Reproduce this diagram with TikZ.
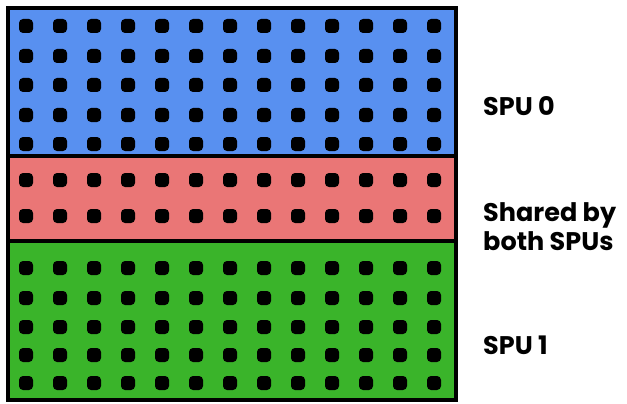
\documentclass[tikz,border=0pt]{standalone}
\usepackage{fontspec}
\setmainfont{Poppins}
\definecolor{spublue}{RGB}{88,144,240}
\definecolor{spured}{RGB}{234,118,118}
\definecolor{spugreen}{RGB}{58,180,42}
\tikzset{
  lab/.style={anchor=west, inner sep=0pt, font=\fontsize{25.5}{29}\selectfont\bfseries, align=left},
  dot/.style={fill=black, rounded corners=4pt}
}
\begin{document}
\begin{tikzpicture}[x=1pt, y=-1pt]

  \useasboundingbox (0,0) rectangle (627,404);

  % Zones
  \fill[spublue] (8,8) rectangle (456,156);
  \fill[spured] (8,156) rectangle (456,241);
  \fill[spugreen] (8,241) rectangle (456,400);

  % Points
  \foreach \x in {0,...,12}
    \foreach \y in {26,56,85,115,144,180,216,268,298,327,355,383}
      \fill[dot] (26+34*\x-7,\y-7) rectangle ++(14,14);

  % Cadre et separations
  \draw[line width=4pt] (8,156) -- (456,156);
  \draw[line width=4pt] (8,241) -- (456,241);
  \draw[line width=4pt] (8,8) rectangle (456,400);

  % Etiquettes
  \node[lab] (spu0) at (483,106) {SPU 0};
  \node[lab] (shared) at (483,227) {Shared by\\both SPUs};
  \node[lab] (spu1) at (483,345) {SPU 1};

\end{tikzpicture}
\end{document}
